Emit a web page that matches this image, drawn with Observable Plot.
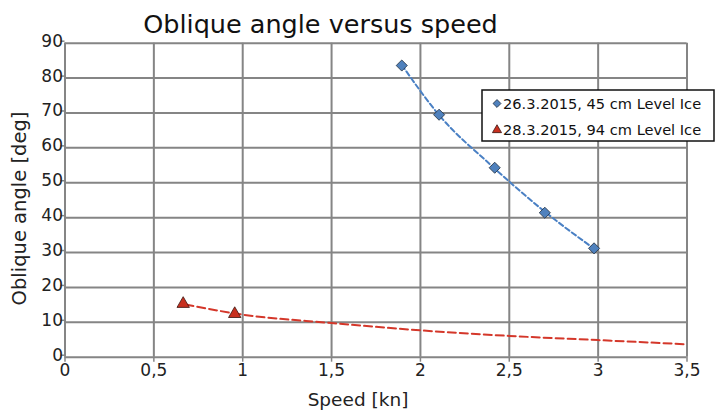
<!DOCTYPE html>
<html>
<head>
<meta charset="utf-8">
<script src="https://cdn.jsdelivr.net/npm/d3@7"></script>
<script src="https://cdn.jsdelivr.net/npm/@observablehq/plot@0.6"></script>
<style>
  html, body { margin: 0; padding: 0; background: #fff; }
  #chart svg { display: block; }
</style>
</head>
<body>
<div id="chart"></div>
<script>
// --- data ---
const blueSpeed = [1.895, 2.105, 2.418, 2.700, 2.977];
const blueAngle = [83.6, 69.5, 54.3, 41.4, 31.2];
const redSpeed = [0.665, 0.955];
const redAngle = [15.3, 12.4];
const blueTrendSpeed = [1.895, 2.1, 2.4, 2.7, 2.98];
const blueTrendAngle = [83.8, 69.7, 54.9, 41.7, 31.0];
const redTrendSpeed = [0.678, 1.0, 1.5, 2.0, 2.5, 3.0, 3.5];
const redTrendAngle = [15.1, 12.2, 9.8, 7.7, 6.1, 4.9, 3.7];
const xTicks = [0, 0.5, 1, 1.5, 2, 2.5, 3, 3.5];
const yTicks = [0, 10, 20, 30, 40, 50, 60, 70, 80, 90];
const seriesNames = ["26.3.2015, 45 cm Level Ice", "28.3.2015, 94 cm Level Ice"];
const titleText = "Oblique angle versus speed";
const xLabel = "Speed [kn]";
const yLabel = "Oblique angle [deg]";

const blue = blueSpeed.map((s, i) => ({speed: s, angle: blueAngle[i]}));
const red = redSpeed.map((s, i) => ({speed: s, angle: redAngle[i]}));
const blueTrend = blueTrendSpeed.map((s, i) => ({speed: s, angle: blueTrendAngle[i]}));
const redTrend = redTrendSpeed.map((s, i) => ({speed: s, angle: redTrendAngle[i]}));

const FONT = "DejaVu Sans";
const grid = "#858585";

const svg = Plot.plot({
  width: 726,
  height: 414,
  marginLeft: 64.5,
  marginRight: 39.5,
  marginTop: 42.7,
  marginBottom: 57.3,
  style: {fontFamily: FONT, fontSize: "17px", color: "#222", background: "#fff"},
  x: {domain: [0, 3.5], label: null},
  y: {domain: [0, 90], label: null},
  marks: [
    Plot.gridX(xTicks, {stroke: grid, strokeOpacity: 1, strokeWidth: 2}),
    Plot.gridY(yTicks, {stroke: grid, strokeOpacity: 1, strokeWidth: 2}),
    Plot.axisX(xTicks, {tickSize: 5, tickPadding: 2, stroke: grid, strokeWidth: 1.5,
      tickFormat: d => String(d).replace(".", ","), fill: "#222", fontSize: 17, label: null}),
    Plot.axisY(yTicks, {tickSize: 4, tickPadding: -2, stroke: grid, strokeWidth: 1.5,
      fill: "#222", fontSize: 17, dy: -2, label: null}),
    Plot.line(redTrend, {x: "speed", y: "angle", curve: "monotone-x", stroke: "#d4372a",
      strokeWidth: 2, strokeDasharray: "8,4"}),
    Plot.line(blueTrend, {x: "speed", y: "angle", curve: "monotone-x", stroke: "#4a80c4",
      strokeWidth: 2, strokeDasharray: "5,3"}),
    Plot.dot(blue, {x: "speed", y: "angle", symbol: "diamond2", r: 5, fill: "#4f81bd",
      stroke: "#1f2d3d", strokeWidth: 0.8}),
    Plot.dot(red, {x: "speed", y: "angle", symbol: "triangle", r: 4.6, fill: "#c8301f",
      stroke: "#3a1410", strokeWidth: 0.8}),
    Plot.text([titleText], {frameAnchor: "top", lineAnchor: "bottom", textAnchor: "middle",
      dx: -55.5, dy: -10.4, fontSize: 25.5, fill: "#111", fontFamily: FONT}),
    Plot.text([xLabel], {frameAnchor: "bottom", lineAnchor: "bottom", textAnchor: "middle",
      dx: -18, dy: 49, fontSize: 18.5, fill: "#222", fontFamily: FONT}),
    Plot.text([yLabel], {frameAnchor: "left", lineAnchor: "bottom", textAnchor: "middle",
      rotate: -90, dx: -39.5, dy: 8.3, fontSize: 19.5, fill: "#222", fontFamily: FONT})
  ]
});

// legend box (overlapping the right edge of the plot, as in the reference)
const s = d3.select(svg);
const lg = s.append("g").attr("font-family", FONT).attr("font-size", 14.6)
  .attr("fill", "#111").attr("text-anchor", "start");
lg.append("rect").attr("x", 482).attr("y", 90).attr("width", 232).attr("height", 51)
  .attr("fill", "#fff").attr("stroke", "#111").attr("stroke-width", 1.5);
const legendSymbols = [
  {sym: d3.symbolDiamond2, size: 40, fill: "#4f81bd", stroke: "#1f2d3d"},
  {sym: d3.symbolTriangle, size: 36, fill: "#c8301f", stroke: "#3a1410"}
];
seriesNames.forEach((name, i) => {
  const cy = 103.5 + i * 26.5;
  lg.append("path").attr("d", d3.symbol(legendSymbols[i].sym, legendSymbols[i].size)())
    .attr("transform", `translate(497,${cy})`)
    .attr("fill", legendSymbols[i].fill).attr("stroke", legendSymbols[i].stroke).attr("stroke-width", 0.8);
  lg.append("text").attr("x", 503).attr("y", cy).attr("dy", "0.36em")
    .attr("text-anchor", "start").text(name);
});

document.getElementById("chart").appendChild(svg);
</script>
</body>
</html>
